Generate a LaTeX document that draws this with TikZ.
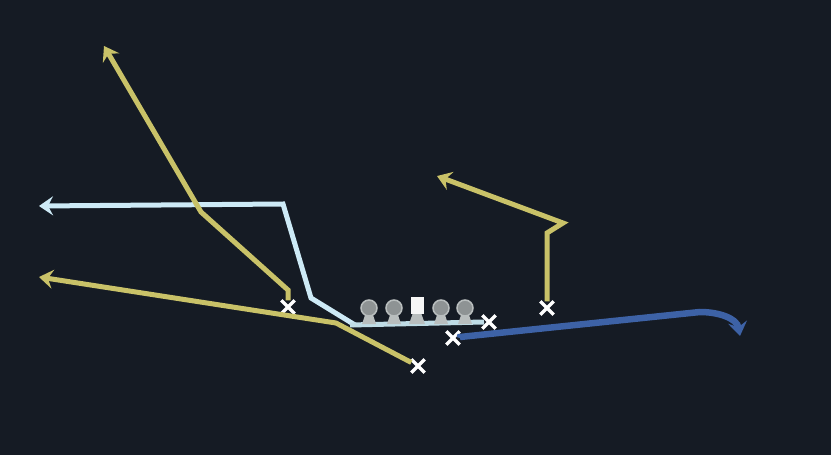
\documentclass[tikz,border=0pt]{standalone}
\usetikzlibrary{arrows.meta,shapes.misc}
\definecolor{bg}{HTML}{151B24}
\definecolor{ylw}{HTML}{C9C268}
\definecolor{lblue}{HTML}{CDEAF6}
\definecolor{dblue}{HTML}{3D62A6}
\definecolor{pgray}{HTML}{8E9394}
\definecolor{pedge}{HTML}{B9BEBE}
\definecolor{lineclr}{HTML}{BFDCE6}
\tikzset{
  route/.style={line width=5pt, line join=miter, -{Stealth[length=14pt,width=19pt,inset=5pt]}},
  yroute/.style={route, draw=ylw},
  lroute/.style={route, draw=lblue},
  droute/.style={route, draw=dblue, line width=6.5pt},
  xmark/.style={cross out, draw=white, line width=3.4pt, minimum size=10pt, inner sep=0pt},
  player/.style={circle, fill=pgray, draw=pedge, line width=1.5pt, minimum size=16pt, inner sep=0pt},
  center/.style={rectangle, fill=white!92!pgray, minimum width=13pt, minimum height=17pt, inner sep=0pt},
  stem/.style={fill=pedge},
}
\begin{document}
\begin{tikzpicture}[x=1pt,y=-1pt]
\fill[bg] (0,0) rectangle (831,455);
\useasboundingbox (0,0) rectangle (831,455);

% waypoints
\coordinate (a1) at (288,290);
\coordinate (a2) at (201,212);
\coordinate (a3) at (104,46);
\coordinate (b0) at (355,325);
\coordinate (b1) at (311,298);
\coordinate (b2) at (283,204);
\coordinate (b3) at (39,206);
\coordinate (c1) at (336,323);
\coordinate (c2) at (39,277);
\coordinate (d1) at (547,233);
\coordinate (d2) at (563,223);
\coordinate (d3) at (437,176);
\coordinate (e1) at (460,337);
\coordinate (e2) at (700,312);
\coordinate (e3) at (740,336);
\coordinate (lineL) at (350,325);
\coordinate (lineR) at (484,322);

% light blue route
\draw[lroute] (b0) -- (b1) -- (b2) -- (b3);

% offensive line bar
\draw[lineclr, line width=5pt] (lineL) -- (lineR);

% players
\foreach \n/\x in {p1/369, p2/394, p4/441, p5/465}{
  \fill[stem] (\x-3,312) -- (\x+3,312) -- (\x+7,324) -- (\x-7,324) -- cycle;
  \node[player] (\n) at (\x,308) {};
}
\fill[stem] (414,310) -- (420,310) -- (425,324) -- (409,324) -- cycle;
\node[center] (p3) at (417,305) {};

% X marks
\node[xmark] (x1) at (288,307) {};
\node[xmark] (x3) at (418,366) {};
\node[xmark] (x4) at (547,308) {};
\node[xmark] (x5) at (453,338) {};
\node[xmark] (x6) at (489,322) {};

% yellow routes
\draw[yroute] (x1) -- (a1) -- (a2) -- (a3);
\draw[yroute] (x3) -- (c1) -- (c2);
\draw[yroute] (x4) -- (d1) -- (d2) -- (d3);

% dark blue route
\draw[droute] (x5.east) -- (e1) -- (e2) to[out=0,in=100] (e3);
\end{tikzpicture}
\end{document}
